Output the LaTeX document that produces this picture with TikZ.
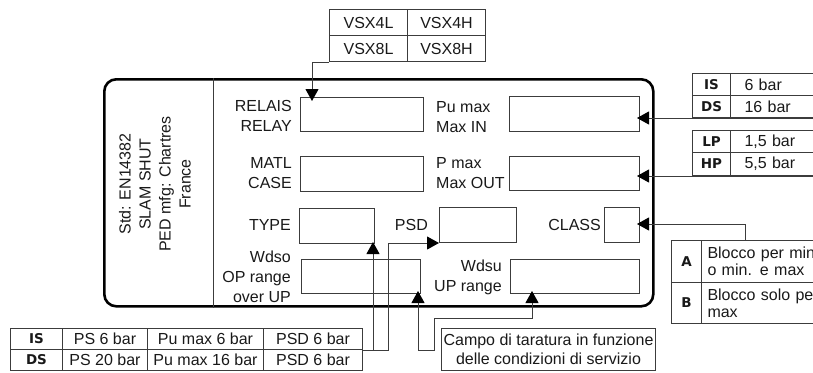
\documentclass[tikz,border=0pt]{standalone}
\usepackage{fontspec}
\setmainfont{Liberation Sans}
\newfontfamily\heavyfont{DejaVu Sans}
\usepackage{xcolor}
\definecolor{LineGray}{RGB}{60,60,60}
\definecolor{TextBlack}{RGB}{25,25,25}
\usetikzlibrary{arrows.meta, positioning, calc}
\tikzset{
  % rounded name plate
  plate/.style={
    draw=black, line width=2.6pt, rounded corners=12pt,
    inner sep=0pt, anchor=north west
  },
  % empty entry field on the plate
  field/.style={draw=LineGray, line width=1pt, inner sep=0pt, anchor=north west},
  % field caption
  flabel/.style={inner sep=0pt, text=TextBlack},
  % table cells
  cell/.style={draw=LineGray, line width=1pt, inner sep=0pt, anchor=north west, text=TextBlack},
  hcell/.style={cell, font=\heavyfont\bfseries\fontsize{13.5}{16}\selectfont},
  vcell/.style={cell, align=left, text width=110pt, inner xsep=14pt},
  bcell/.style={cell, align=left, text width=150pt, inner xsep=6pt,
    font=\fontsize{16}{17}\selectfont},
  % connectors
  thinline/.style={draw=LineGray, line width=1pt},
  arr/.style={-{Triangle[length=12pt,width=13pt,color=black]}, line width=1pt, LineGray},
  arrs/.style={{Triangle[length=12pt,width=13pt,color=black]}-{Triangle[length=12pt,width=13pt,color=black]},
    line width=1pt, LineGray},
}
\begin{document}
\begin{tikzpicture}[x=1pt, y=-1pt, font=\fontsize{16}{20}\selectfont]
  \useasboundingbox (0,0) rectangle (813,372);
  \clip (0,0) rectangle (813,372);

  %% ---- PLATE ----
  \node[plate, minimum width=549pt, minimum height=227pt] (plate) at (103,78) {};
  \draw[thinline] ($(plate.north west)+(110,0)$) -- ($(plate.south west)+(110,0)$);
  \node[rotate=90, align=center, text=TextBlack] (maker) at (155,184)
    {Std: EN14382\\SLAM SHUT\\PED mfg: Chartres\\France};

  %% fields
  \node[field, minimum width=123pt, minimum height=34pt] (relay) at (300,97) {};
  \node[field, minimum width=130pt, minimum height=35pt] (pumax) at (509,96) {};
  \node[field, minimum width=123pt, minimum height=35pt] (matl)  at (300,156) {};
  \node[field, minimum width=130pt, minimum height=34pt] (pmax)  at (509,156) {};
  \node[field, minimum width=75pt,  minimum height=35pt] (type)  at (299,208) {};
  \node[field, minimum width=77pt,  minimum height=35pt] (psd)   at (439,207) {};
  \node[field, minimum width=35pt,  minimum height=35pt] (class) at (604,207) {};
  \node[field, minimum width=119pt, minimum height=34pt] (wdso)  at (301,259) {};
  \node[field, minimum width=129pt, minimum height=34pt] (wdsu)  at (510,259) {};

  %% captions
  \node[flabel, align=right, anchor=east] at (292,116) {RELAIS\\RELAY};
  \node[flabel, align=right, anchor=east] at (292,173) {MATL\\CASE};
  \node[flabel, anchor=east] at (291,225) {TYPE};
  \node[flabel, anchor=east] at (428,225) {PSD};
  \node[flabel, anchor=east] at (601,225) {CLASS};
  \node[flabel, align=right, anchor=east] at (291,277) {Wdso\\OP range\\over UP};
  \node[flabel, align=right, anchor=east] at (502,277) {Wdsu\\UP range};
  \node[flabel, align=left, anchor=west] at (436,117) {Pu max\\Max IN};
  \node[flabel, align=left, anchor=west] at (436,173) {P max\\Max OUT};

  %% ---- RELAY TABLE ----
  \node[cell, minimum width=78pt, minimum height=26pt] (vsx4l) at (329,9)  {VSX4L};
  \node[cell, minimum width=78pt, minimum height=26pt] (vsx4h) at (407,9)  {VSX4H};
  \node[cell, minimum width=78pt, minimum height=26pt] (vsx8l) at (329,35) {VSX8L};
  \node[cell, minimum width=78pt, minimum height=26pt] (vsx8h) at (407,35) {VSX8H};

  %% ---- PRESSURE TABLES ----
  \node[hcell, minimum width=38pt, minimum height=22pt] (ish) at (692,73) {IS};
  \node[vcell, minimum height=22pt] (isv) at (730,73) {6 bar};
  \node[hcell, minimum width=38pt, minimum height=22pt] (dsh) at (692,95) {DS};
  \node[vcell, minimum height=22pt] (dsv) at (730,95) {16 bar};

  \node[hcell, minimum width=38pt, minimum height=22pt] (lph) at (692,130) {LP};
  \node[vcell, minimum height=22pt] (lpv) at (730,130) {1,5 bar};
  \node[hcell, minimum width=38pt, minimum height=23pt] (hph) at (692,152) {HP};
  \node[vcell, minimum height=23pt] (hpv) at (730,152) {5,5 bar};

  %% ---- CLASS TABLE ----
  \node[hcell, minimum width=30pt, minimum height=42pt] (clah) at (671,240) {A};
  \node[bcell, minimum height=42pt] (clav) at (701,240) {Blocco per min\\o min. e max};
  \node[hcell, minimum width=30pt, minimum height=41pt] (clbh) at (671,282) {B};
  \node[bcell, minimum height=41pt] (clbv) at (701,282) {Blocco solo per\\max};

  %% ---- PSD TABLE ----
  \node[hcell, minimum width=52pt,  minimum height=21pt] (ps0) at (10,328)  {IS};
  \node[cell,  minimum width=85pt,  minimum height=21pt] (ps1) at (62,328)  {PS 6 bar};
  \node[cell,  minimum width=116pt, minimum height=21pt] (ps2) at (147,328) {Pu max 6 bar};
  \node[cell,  minimum width=99pt,  minimum height=21pt] (ps3) at (263,328) {PSD 6 bar};
  \node[hcell, minimum width=52pt,  minimum height=21pt] (pd0) at (10,349)  {DS};
  \node[cell,  minimum width=85pt,  minimum height=21pt] (pd1) at (62,349)  {PS 20 bar};
  \node[cell,  minimum width=116pt, minimum height=21pt] (pd2) at (147,349) {Pu max 16 bar};
  \node[cell,  minimum width=99pt,  minimum height=21pt] (pd3) at (263,349) {PSD 6 bar};

  %% range note
  \node[cell, minimum width=214pt, minimum height=42pt, align=center,
        font=\fontsize{16}{19}\selectfont] (campo) at (441,328)
    {Campo di taratura in funzione\\delle condizioni di servizio};

  %% Arrows
  \draw[arr] (vsx8l.south west) -| ($(relay.north west)+(12,4)$);
  \draw[arr] (dsv.south east) -- ($(pumax.east |- dsv.south)+(-3,0)$);
  \draw[arr] (hpv.south east) -- ($(pmax.east |- hpv.south)+(-3,0)$);
  \draw[arr] ($(clav.north west)+(44,0)$) |- ($(class.east)+(-3,-1)$);
  \draw[arr] (ps3.south east) -- ++(25,0) |- (psd.south west);
  \draw[arr] ($(type.south east |- ps3.south east)+(-2,0)$) -- ($(type.south east)+(-2,-2)$);
  \draw[arrs] ($(wdso.south east)+(-3,-3)$) -- ++(0,59) -- ++(16,0) -- ++(0,-32)
    -| ($(wdsu.south west)+(22,-3)$);

\end{tikzpicture}
\end{document}
